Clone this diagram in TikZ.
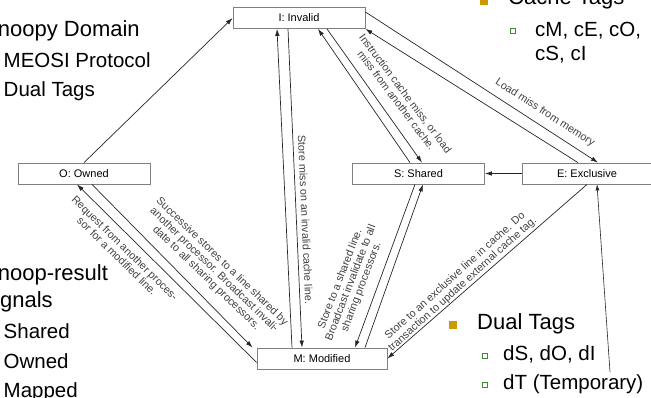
\documentclass[tikz,border=0pt]{standalone}
\usepackage{fontspec}
\setmainfont{Liberation Sans}
\usetikzlibrary{arrows.meta}
\definecolor{bulletgold}{RGB}{204,153,0}
\definecolor{bulletgreen}{RGB}{60,140,50}

\begin{document}
\begin{tikzpicture}
    [x=1pt, y=-1pt,
    state/.style={draw=black!50, fill=white, line width=0.8pt, minimum width=132pt,
      minimum height=21pt, inner sep=0pt, font=\fontsize{11}{12}\selectfont},
    trans/.style={draw=black!85, line width=0.7pt, -{Latex[length=7pt,width=4.5pt]}},
    lbl/.style={text=black!75, align=center, inner sep=0pt, font=\fontsize{10.8}{11.3}\selectfont},
    headtext/.style={anchor=base west, inner sep=0pt, font=\fontsize{22}{26}\selectfont},
    subtext/.style={anchor=base west, inner sep=0pt, font=\fontsize{20.5}{24}\selectfont},
    goldbox/.style={fill=bulletgold, minimum size=8pt, inner sep=0pt},
    greenbox/.style={draw=bulletgreen, line width=0.8pt, fill=white, minimum size=5.5pt, inner sep=0pt}]
    \useasboundingbox (0,0) rectangle (651,398);
    \clip (0,0) rectangle (651,398);

    % states
    \node[state] (inv) at (299,18) {I: Invalid};
    \node[state] (own) at (84,173.5) {O: Owned};
    \node[state] (shr) at (418.5,173.5) {S: Shared};
    \node[state, minimum width=130pt] (exc) at (587,173.5) {E: Exclusive};
    \node[state, minimum width=130pt] (mod) at (322,358.5) {M: Modified};

    % transitions
    \draw[trans] (own.north) -- (inv.west);
    \draw[trans] ([xshift=-11pt]inv.south) -- ([xshift=-20pt]mod.north);
    \draw[trans] ([xshift=-30pt]mod.north) -- ([xshift=-22pt]inv.south);
    \draw[trans] ([xshift=28pt]inv.south) -- ([xshift=3.5pt]shr.north);
    \draw[trans] ([xshift=-8.5pt]shr.north) -- ([xshift=19pt]inv.south);
    \draw[trans] ([yshift=6pt]inv.east) -- ([xshift=11pt]exc.north);
    \draw[trans] ([xshift=-9pt]exc.north) -- (inv.south east);
    \draw[trans] (exc.west) -- (shr.east);
    \draw[trans] ([xshift=43pt]mod.north) -- ([xshift=4.5pt]shr.south);
    \draw[trans] ([xshift=-3.5pt]shr.south) -- ([xshift=33pt]mod.north);
    \draw[trans] (exc.south) -- (mod.east);
    \draw[trans] ([yshift=-4pt]mod.west) -- ([xshift=-7pt]own.south);
    \draw[trans] ([xshift=8pt]own.south) -- ([xshift=-4pt]mod.north west);

    % transition labels
    \node[lbl, rotate=-87.5] (lstoremiss) at (305.5,220) {Store miss on an invalid cache line.};
    \node[lbl, rotate=-53] (linstr) at (401,97) {Instruction cache miss, or load\\miss from another cache.};
    \node[lbl, rotate=-33] (lload) at (545,113) {Load miss from memory};
    \node[lbl, rotate=69] (lshared) at (351,283) {Store to a shared line.\\Broadcast invalidate to all\\sharing processors.};
    \node[lbl, rotate=42] (lexcl) at (459,280) {Store to an exclusive line in cache. Do\\transaction to update external cache tag.};
    \node[lbl, rotate=-44.5] (lreq) at (121,252) {Request from another proces-\\sor for a modified line.};
    \node[lbl, rotate=-44] (lsucc) at (214,270) {Successive stores to a line shared by\\another processor. Broadcast invali-\\date to all sharing processors.};

    % slide text, left
    \node[headtext] (snoopy) at (-17,37) {Snoopy Domain};
    \node[subtext] (meosi) at (3.5,68) {MEOSI Protocol};
    \node[subtext] (dualleft) at (3.5,97) {Dual Tags};
    \node[headtext] (snoopres) at (-17,280) {Snoop-result};
    \node[headtext] (signals) at (-16,308) {signals};
    \node[subtext] (sigshared) at (3.5,338) {Shared};
    \node[subtext] (sigowned) at (3.5,368) {Owned};
    \node[subtext] (sigmapped) at (3.5,397) {Mapped};

    % slide text, right
    \node[goldbox] (bcache) at (484,1) {};
    \node[headtext] (cachetags) at (508,5) {Cache Tags};
    \node[greenbox] (bctags) at (513,31) {};
    \node[subtext] (ctags) at (535,37) {cM, cE, cO,};
    \node[subtext] (ctags2) at (535,61) {cS, cI};
    \node[goldbox] (bdual) at (453,325) {};
    \node[headtext] (dualtags) at (477,330) {Dual Tags};
    \node[greenbox] (bdtags) at (485,356) {};
    \node[subtext] (dtags) at (503,360) {dS, dO, dI};
    \node[greenbox] (bdtemp) at (485,385) {};
    \node[subtext] (dtemp) at (503,389) {dT (Temporary)};

    \coordinate (dtip) at (610,372);
    \draw[draw=black!85, line width=0.6pt, -{Latex[length=6pt,width=4pt]}] (dtip) -- ([xshift=10pt]exc.south);
\end{tikzpicture}
\end{document}
